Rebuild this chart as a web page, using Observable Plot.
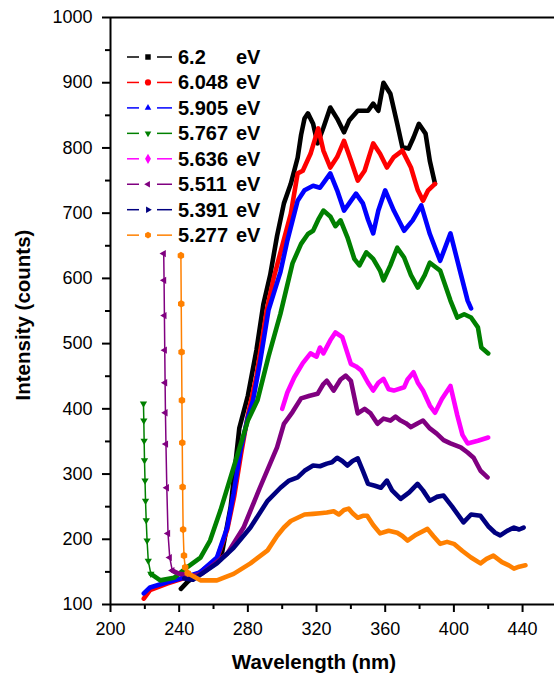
<!DOCTYPE html>
<html><head><meta charset="utf-8">
<script src="https://cdn.jsdelivr.net/npm/d3@7"></script>
<script src="https://cdn.jsdelivr.net/npm/@observablehq/plot@0.6"></script>
<style>body{margin:0;background:#fff;} svg{display:block;}</style>
</head><body><div id="chart"></div>
<script>
// ---- data (wavelength nm, intensity counts) ----
const nm62 = [241,245,250,255,260,265,270,275,280,285,289,293,297,301,305,309,311,313,315,318,320.6,324,328,332,336,339,344,350,353,356,359,363,367,370,373.6,376.5,379.6,383.5,386,389];
const i62  = [124,135,145,155,165,180,250,370,420,490,560,605,665,715,745,785,820,845,853,837,807,831,862,845,824,842,857,857,868,857,900,883,837,801,799,816,837,822,780,745];

const nm6048 = [219.4,223,233,242.5,252,262,268,272,276,280,285,291,295,299,305,309,312,316.5,321,324,328,332,336,340,344,348,353,357,361,365,370,375,379,382,385,389];
const i6048  = [109,122,132,140,148,170,215,265,330,390,450,551,600,640,699,761,765,791,830,796,770,786,811,781,750,765,807,791,770,786,796,770,735,719,735,745];

const nm5905 = [219.4,223,233,242.5,252,262,268,271.7,275.7,280,283,287,292,299,303,309,313,318,322,325,328,332,336,339,343,347,350,353,356,360,365,371,376,381,386,392,398,404,408,410];
const i5905  = [117,126,134,141,149,172,218,270,336,387,413,470,551,610,658,719,735,742,739,750,761,735,704,715,730,715,690,669,704,735,704,673,689,712,668,627,669,607,566,554];

const nm5767spike = [219.2,219.4,219.6,219.8,220.1,220.4,220.8,221.3,222,223.5];
const i5767spike  = [408,382,351,321,290,259,229,198,167,147];
const nm5767 = [223.5,229,237,244.6,252.4,258,264,271.7,280,285.6,292,299,306,311,315,318,321,324,328,331,334,338,342,345,349,353,357,359,363,367,371,375,379,383,386,392,398,402,406,410,414,416,420];
const i5767  = [147,137,141,157,172,198,244,310,382,413,480,546,623,653,668,673,690,704,695,680,689,663,630,620,640,630,612,597,620,647,632,605,586,605,624,612,566,540,545,540,525,494,485];

const nm5636 = [300,303,307,312,316.5,320,322,324,328,331,335,340,343,346,350,353,356,359,362,365,371,373,376.5,379,382,386,389,393,398,402,405,408,414,420];
const i5636  = [400,425,448,470,485,480,494,485,505,517,510,469,465,459,440,428,440,446,430,428,433,445,456,440,428,405,394,415,435,390,360,347,351,356];

const nm5511spike = [231,231.2,231.4,231.6,231.8,232,232.3,232.8,233.5,234.5,236];
const i5511spike  = [638,597,543,490,440,394,346,279,209,172,152];
const nm5511 = [236,240,248,253,258,268,277.5,287,297,301,306,311,316,320.6,324,326,330,334,337,340,344,348,351.5,355.5,359,363,366,369,372,375,379,382,386,390,394,398,404,408,411.5,415.5,419.6];
const i5511  = [152,147,144,147,157,178,218,279,341,377,395,416,420,423,438,443,428,445,451,443,393,400,393,377,385,382,388,382,378,372,378,382,370,362,352,347,341,333,325,305,295];

const nm5391 = [243,248,252,262,271.7,281.5,291.5,299,304,309,313,318,322,326,329,332,335,338,341,344,347,350,354,357.5,361,364,369,374,378.8,382,386,390,394,399,405.6,410,415.5,420,424,427,431,435,438,440.6];
const i5391  = [140,138,145,163,187,218,259,279,290,295,305,313,312,316,318,325,320,313,320,324,305,285,282,279,290,275,262,272,285,275,259,265,267,250,226,238,236,220,210,206,213,218,215,218];

const nm5277spike = [241,241.2,241.4,241.6,241.8,242,242.3,242.8,243.5,245];
const i5277spike  = [635,561,487,413,348,280,215,175,157,148];
const nm5277 = [245,252.4,262,271.7,281.5,291.5,297,301,305,309,313,318,322,326,330,333,336,338.7,341,344,347,349.5,353,357,362,367,370,373,378,384.6,388,392,396,400,405,410,415.5,419,423,428,432,435,438,441.7];
const i5277  = [148,137,137,147,163,183,205,218,228,233,238,239,240,241,243,238,245,247,240,233,236,236,222,209,213,210,205,198,207,216,205,193,196,193,182,172,163,170,175,165,160,155,158,160];

const energies = ["6.2","6.048","5.905","5.767","5.636","5.511","5.391","5.277"];
const colors = ["#000000","#ff0000","#0000ff","#008000","#ff00ff","#800080","#000080","#ff8000"];
const xTicks = [200,240,280,320,360,400,440];
const xMinor = [220,260,300,340,380,420];
const yTicks = [100,200,300,400,500,600,700,800,900,1000];
const yMinor = [150,250,350,450,550,650,750,850,950];

// ---- custom marker shapes ----
function tri(angle){
  return {draw(ctx, size){
    const r = Math.sqrt(size) * 0.7;
    for (let k = 0; k < 3; k++) {
      const a = angle + k * 2 * Math.PI / 3;
      const px = r * Math.cos(a), py = r * Math.sin(a);
      k === 0 ? ctx.moveTo(px, py) : ctx.lineTo(px, py);
    }
    ctx.closePath();
  }};
}
const hexagon = {draw(ctx, size){
  const r = Math.sqrt(size) * 0.62;
  for (let k = 0; k < 6; k++) {
    const a = Math.PI / 6 + k * Math.PI / 3;
    k === 0 ? ctx.moveTo(r*Math.cos(a), r*Math.sin(a)) : ctx.lineTo(r*Math.cos(a), r*Math.sin(a));
  }
  ctx.closePath();
}};
const symbols = [d3.symbolSquare, d3.symbolCircle, tri(-Math.PI/2), tri(Math.PI/2), d3.symbolDiamond, tri(Math.PI), tri(0), hexagon];

const mainSets = [[nm62,i62],[nm6048,i6048],[nm5905,i5905],[nm5767,i5767],[nm5636,i5636],[nm5511,i5511],[nm5391,i5391],[nm5277,i5277]];
const spikeSets = [[3,nm5767spike,i5767spike],[5,nm5511spike,i5511spike],[7,nm5277spike,i5277spike]];

const rows = [];
mainSets.forEach(([xs, ys], k) => xs.forEach((x, j) => rows.push({nm: x, i: ys[j], s: energies[k]})));

const marks = [];
mainSets.forEach((_, k) => {
  const data = rows.filter(d => d.s === energies[k]);
  marks.push(Plot.line(data, {x: "nm", y: "i", stroke: colors[k], strokeWidth: 4.6, strokeLinejoin: "round", strokeLinecap: "round"}));
  const sp = spikeSets.find(s => s[0] === k);
  if (sp) {
    const sdata = sp[1].map((x, j) => ({nm: x, i: sp[2][j]}));
    marks.push(Plot.line(sdata, {x: "nm", y: "i", stroke: colors[k], strokeWidth: 1.5}));
    marks.push(Plot.dot(sdata, {x: "nm", y: "i", fill: colors[k], stroke: "none", r: 3.4, symbol: symbols[k]}));
  }
});

const plot = Plot.plot({
  width: 554, height: 677,
  marginLeft: 110, marginRight: 0, marginTop: 17, marginBottom: 73,
  style: {fontFamily: "'Liberation Sans', Arial, sans-serif", fontSize: "18px", color: "#000", background: "#fff"},
  x: {domain: [200, 458.6]},
  y: {domain: [100, 1000]},
  marks: [
    ...marks,
    Plot.axisX({ticks: xTicks, tickSize: 8, tickPadding: 10, strokeWidth: 2, label: null, tickFormat: d => String(d)}),
    Plot.axisX({ticks: xMinor, tickSize: 5, strokeWidth: 2, label: null, tickFormat: () => ""}),
    Plot.axisY({ticks: yTicks, tickSize: 8, tickPadding: 10, strokeWidth: 2, label: null, tickFormat: d => String(d)}),
    Plot.axisY({ticks: yMinor, tickSize: 5, strokeWidth: 2, label: null, tickFormat: () => ""}),
    Plot.ruleY([100], {strokeWidth: 2}),
    Plot.ruleY([1000], {strokeWidth: 2}),
    Plot.ruleX([200], {strokeWidth: 2})
  ]
});
document.getElementById("chart").appendChild(plot);

// ---- axis titles and legend ----
const svg = d3.select(plot);
svg.append("text").attr("x", 314).attr("y", 669).attr("text-anchor", "middle")
  .attr("font-weight", "bold").attr("font-size", "20.5px").attr("fill", "#000").text("Wavelength (nm)");
svg.append("text").attr("transform", "translate(30,315) rotate(-90)").attr("text-anchor", "middle")
  .attr("font-weight", "bold").attr("font-size", "20.5px").attr("fill", "#000").text("Intensity (counts)");

const leg = svg.append("g").attr("text-anchor", "start");
energies.forEach((e, k) => {
  const y = 57 + k * 25.45;
  leg.append("line").attr("x1", 127).attr("x2", 139).attr("y1", y).attr("y2", y).attr("stroke", colors[k]).attr("stroke-width", 1.5);
  leg.append("line").attr("x1", 157).attr("x2", 172).attr("y1", y).attr("y2", y).attr("stroke", colors[k]).attr("stroke-width", 1.5);
  leg.append("path").attr("d", d3.symbol(symbols[k], 30)()).attr("transform", `translate(148,${y})`).attr("fill", colors[k]);
  leg.append("text").attr("x", 178).attr("y", y + 7).attr("text-anchor", "start").attr("font-weight", "bold").attr("font-size", "20px").attr("fill", "#000").text(e);
  leg.append("text").attr("x", 236).attr("y", y + 7).attr("text-anchor", "start").attr("font-weight", "bold").attr("font-size", "20px").attr("fill", "#000").text("eV");
});
</script>
</body></html>
